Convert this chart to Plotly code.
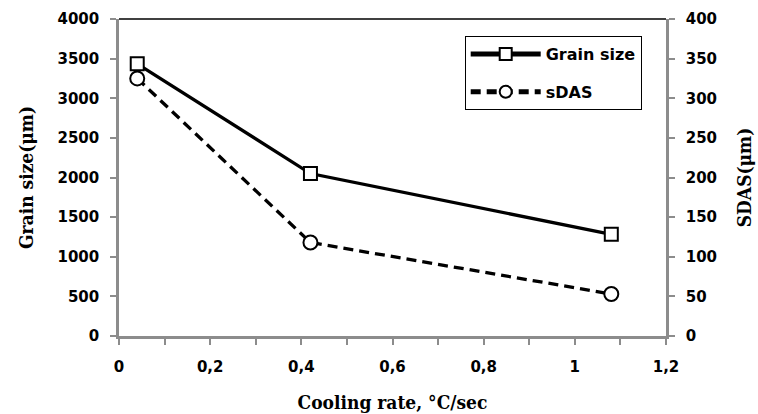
import plotly.graph_objects as go

# Data
cooling_rate = [0.04, 0.42, 1.08]
grain_size = [3435, 2050, 1283]
sdas = [325, 118, 53]

x_tickvals = [0, 0.2, 0.4, 0.6, 0.8, 1.0, 1.2]
x_ticktext = ["0", "0,2", "0,4", "0,6", "0,8", "1", "1,2"]
x_minorvals = [0.1, 0.3, 0.5, 0.7, 0.9, 1.1]
y1_tickvals = [0, 500, 1000, 1500, 2000, 2500, 3000, 3500, 4000]
y2_tickvals = [0, 50, 100, 150, 200, 250, 300, 350, 400]

AX = "#8c8c8c"
tickfont = dict(family="DejaVu Sans", size=15, color="black", weight="bold")
titlefont = dict(family="DejaVu Serif Condensed, DejaVu Serif", size=19, color="black", weight="bold")

fig = go.Figure()
fig.add_trace(go.Scatter(
    x=cooling_rate, y=grain_size, name="Grain size", mode="lines+markers",
    legendgroup="g1",
    line=dict(color="black", width=3.3),
    marker=dict(symbol="square", size=13, color="white", line=dict(color="black", width=2)),
))
fig.add_trace(go.Scatter(
    x=cooling_rate, y=sdas, name="sDAS", mode="lines+markers", yaxis="y2",
    legendgroup="g2",
    line=dict(color="black", width=3.3, dash="10px,6px"),
    marker=dict(symbol="circle", size=14, color="white", line=dict(color="black", width=2)),
))

fig.update_layout(
    width=758, height=414,
    margin=dict(l=119, r=92, t=19, b=78),
    paper_bgcolor="white", plot_bgcolor="white",
    showlegend=True,
    legend=dict(
        x=0.632, y=0.946, xanchor="left", yanchor="top",
        bordercolor="black", borderwidth=1, bgcolor="white",
        font=dict(family="DejaVu Sans", size=16, color="black", weight="bold"),
        itemwidth=70, itemsizing="constant", tracegroupgap=14,
    ),
    xaxis=dict(
        range=[0, 1.2], tickmode="array", tickvals=x_tickvals, ticktext=x_ticktext,
        automargin=False,
        showgrid=False, zeroline=False, showline=True, linecolor=AX, linewidth=2.5,
        ticks="outside", ticklen=6, tickwidth=2, tickcolor=AX,
        minor=dict(tickmode="array", tickvals=x_minorvals, ticks="outside",
                   ticklen=6, tickwidth=2, tickcolor=AX, showgrid=False),
        tickfont=tickfont, ticklabelstandoff=9,
        title=dict(text="Cooling rate, °C/sec", font=titlefont, standoff=21),
    ),
    yaxis=dict(
        range=[0, 4000], tickmode="array", tickvals=y1_tickvals,
        automargin=False,
        showgrid=False, zeroline=False, showline=True, linecolor=AX, linewidth=2.5,
        ticks="outside", ticklen=6, tickwidth=2, tickcolor=AX,
        tickfont=tickfont, ticklabelstandoff=8,
        title=dict(text="Grain size(μm)", font=titlefont, standoff=19),
    ),
    yaxis2=dict(
        range=[0, 400], tickmode="array", tickvals=y2_tickvals,
        overlaying="y", side="right", automargin=False,
        showgrid=False, zeroline=False, showline=True, linecolor=AX, linewidth=2.5,
        ticks="outside", ticklen=6, tickwidth=2, tickcolor=AX,
        tickfont=tickfont, ticklabelstandoff=8,
        title=dict(text="SDAS(μm)", font=titlefont, standoff=22),
    ),
    shapes=[dict(type="line", xref="paper", yref="paper", x0=0, x1=1, y0=1, y1=1,
                 line=dict(color="black", width=1.5))],
)

fig.write_html("out.html")
